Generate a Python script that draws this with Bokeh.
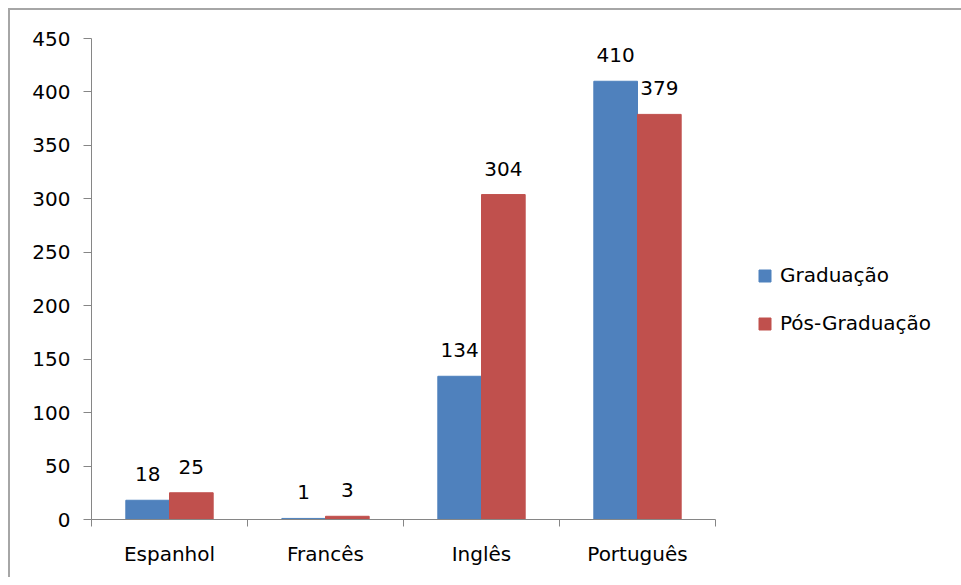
from bokeh.plotting import figure
from bokeh.models import (ColumnDataSource, Range1d, FixedTicker, Legend, LegendItem,
                          LabelSet)
from bokeh.core.properties import value
from bokeh.embed import file_html
from bokeh.resources import INLINE

categories = ["Espanhol", "Francês", "Inglês", "Português"]
series_names = ["Graduação", "Pós-Graduação"]
graduacao = [18, 1, 134, 410]
pos_graduacao = [25, 3, 304, 379]
y_ticks = [0, 50, 100, 150, 200, 250, 300, 350, 400, 450]

BLUE = "#4F81BD"
RED = "#C0504D"
AXIS = "#868686"
FONT = "DejaVu Sans"
FS = "20px"
BAR_W = 0.28

centers = [i + 0.5 for i in range(len(categories))]
src_g = ColumnDataSource(dict(x=[c - BAR_W / 2 for c in centers], y=graduacao,
                              lab=[str(v) for v in graduacao]))
src_p = ColumnDataSource(dict(x=[c + BAR_W / 2 for c in centers], y=pos_graduacao,
                              lab=[str(v) for v in pos_graduacao]))

p = figure(frame_width=624, frame_height=481, output_backend="svg", toolbar_location=None,
           x_range=Range1d(0, len(categories)), y_range=Range1d(0, 450),
           min_border_left=81, min_border_top=28, min_border_right=0,
           min_border_bottom=58)
p.styles = {"border-top": "2px solid #a6a6a6", "border-left": "2px solid #a6a6a6",
            "margin-top": "8px", "margin-left": "8px"}
p.outline_line_color = None
p.xgrid.visible = False
p.ygrid.visible = False

rg = p.vbar(x="x", top="y", width=BAR_W, source=src_g, fill_color=BLUE, line_color=BLUE)
rp = p.vbar(x="x", top="y", width=BAR_W, source=src_p, fill_color=RED, line_color=RED)

for src in (src_g, src_p):
    p.add_layout(LabelSet(x="x", y="y", text="lab", source=src, y_offset=26,
                          text_align="center", text_baseline="middle",
                          text_font=value(FONT), text_font_size=value(FS),
                          text_color="#000000"))

# y axis
ya = p.yaxis[0]
ya.ticker = FixedTicker(ticks=y_ticks)
ya.axis_line_color = AXIS
ya.major_tick_line_color = AXIS
ya.major_tick_out = 8
ya.major_tick_in = 0
ya.minor_tick_line_color = None
ya.major_label_standoff = 13
ya.major_label_text_font = FONT
ya.major_label_text_font_size = FS
ya.major_label_text_color = "#000000"

# x axis
xa = p.xaxis[0]
xa.ticker = FixedTicker(ticks=centers, minor_ticks=list(range(len(categories) + 1)))
xa.major_label_overrides = {c: name for c, name in zip(centers, categories)}
xa.axis_line_color = AXIS
xa.major_tick_line_color = None
xa.major_tick_out = 0
xa.major_tick_in = 0
xa.minor_tick_line_color = AXIS
xa.minor_tick_out = 7
xa.minor_tick_in = 0
xa.major_label_standoff = 15
xa.major_label_text_font = FONT
xa.major_label_text_font_size = FS
xa.major_label_text_color = "#000000"

legend = Legend(items=[LegendItem(label=series_names[0], renderers=[rg]),
                       LegendItem(label=series_names[1], renderers=[rp])],
                location=(42, 184), padding=0, margin=0, spacing=24,
                glyph_width=15, glyph_height=15, label_standoff=8,
                border_line_alpha=0, background_fill_alpha=0,
                label_text_font=FONT, label_text_font_size=FS,
                label_text_color="#000000")
p.add_layout(legend, "right")

open("out.html", "w").write(file_html(p, INLINE))
